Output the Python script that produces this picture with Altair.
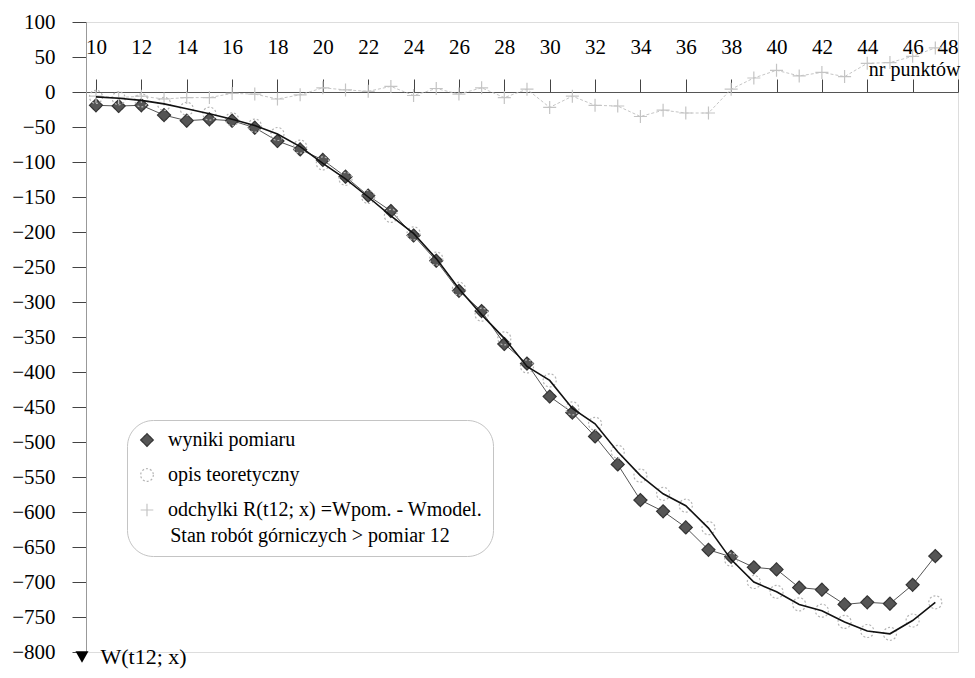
import altair as alt
import pandas as pd

# ---- data ----
points = list(range(10, 48))

measured = [-19, -20, -19, -33, -41, -39, -41, -51, -70, -82,
            -97, -121, -148, -170, -205, -241, -284, -313, -360, -388,
            -435, -458, -492, -532, -583, -599, -622, -654, -664, -679,
            -682, -708, -711, -732, -729, -731, -704, -663]

theoretical = [-7, -9, -12, -17, -24, -31, -39, -48, -60, -78,
               -102, -124, -150, -177, -202, -238, -281, -318, -352, -392,
               -412, -452, -474, -514, -548, -574, -591, -623, -668, -700,
               -714, -732, -741, -757, -770, -774, -755, -729]

deviation = [-6, -8, -6, -10, -8, -8, -2, -3, -10, -4,
             6, 3, 1, 8, -5, 5, -3, 6, -8, 4,
             -22, -6, -19, -20, -35, -26, -30, -30, 4, 20,
             31, 23, 28, 22, 41, 42, 51, 63]

series_labels = ["wyniki pomiaru", "opis teoretyczny",
                 "odchylki R(t12; x) =Wpom. - Wmodel."]
legend_title = "Stan robót górniczych > pomiar 12"

x_ticks = list(range(10, 49, 2))
y_ticks = list(range(-800, 101, 50))

rows = []
for s, vals in zip(series_labels, [measured, theoretical, deviation]):
    for p, v in zip(points, vals):
        rows.append({"nr": p, "W": v, "series": s})
df = pd.DataFrame(rows)

# ---- layout ----
W, H = 872, 630
FONT = "Liberation Serif"
y_dom = [-800, 100]
zero_offset = H * 100 / 900.0

x_scale = alt.Scale(domain=[9.56, 48], nice=False, zero=False)
y_scale = alt.Scale(domain=y_dom, nice=False, zero=False)

x_axis = alt.Axis(orient="top", offset=-zero_offset, values=x_ticks,
                  tickSize=13, tickColor="#444", domainColor="#555",
                  labelFont=FONT, labelFontSize=21, labelColor="black",
                  labelPadding=22, grid=False,
                  title="nr punktów", titleFont=FONT, titleFontSize=20,
                  titleFontWeight="normal", titleColor="black",
                  titleX=W + 2, titleY=-17, titleAlign="right",
                  titleAnchor="end", titleBaseline="alphabetic")

y_axis = alt.Axis(orient="left", values=y_ticks, tickSize=14,
                  tickColor="#444", domainColor="#999",
                  labelFont=FONT, labelFontSize=21, labelColor="black",
                  labelPadding=17, grid=False,
                  title="W(t12; x)", titleFont=FONT, titleFontSize=22,
                  titleFontWeight="normal", titleColor="black",
                  titleAngle=0, titleX=14, titleY=H + 4,
                  titleAlign="left", titleBaseline="middle")

X = alt.X("nr:Q", scale=x_scale, axis=x_axis)
Y = alt.Y("W:Q", scale=y_scale, axis=y_axis)

leg = alt.Legend(orient="none", legendX=41, legendY=398,
                 title=legend_title, titleOrient="bottom",
                 titleAnchor="middle", titleFont=FONT, titleFontSize=20,
                 titleFontWeight="normal", titleColor="black",
                 titlePadding=6, titleLimit=400,
                 labelFont=FONT, labelFontSize=20, labelColor="black",
                 labelOffset=11, labelLimit=400,
                 symbolSize=160, symbolStrokeWidth=1.2,
                 rowPadding=15, padding=10, cornerRadius=26,
                 strokeColor="#c4c4c4", fillColor="white")

base = alt.Chart(df)

dev_line = base.transform_filter(
    alt.datum.series == series_labels[2]
).mark_line(color="#c6c6c6", strokeWidth=1, strokeDash=[3, 2]).encode(
    x=X, y=Y)

meas_line = base.transform_filter(
    alt.datum.series == series_labels[0]
).mark_line(color="#555555", strokeWidth=1).encode(x=X, y=Y)

theo_line = base.transform_filter(
    alt.datum.series == series_labels[1]
).mark_line(color="#111111", strokeWidth=1.6).encode(x=X, y=Y)

pts = base.mark_point(opacity=1, strokeWidth=1.2, size=170).encode(
    x=X, y=Y,
    shape=alt.Shape("series:N", sort=series_labels, legend=leg,
                    scale=alt.Scale(domain=series_labels,
                                    range=["diamond", "circle",
                                           "M-1,0L1,0M0,-1L0,1"])),
    stroke=alt.Stroke("series:N", sort=series_labels, legend=leg,
                      scale=alt.Scale(domain=series_labels,
                                      range=["#333333", "#b4b4b4", "#c4c4c4"])),
    fill=alt.Fill("series:N", sort=series_labels, legend=leg,
                  scale=alt.Scale(domain=series_labels,
                                  range=["#555555", "transparent", "transparent"])),
    strokeDash=alt.StrokeDash("series:N", sort=series_labels, legend=leg,
                              scale=alt.Scale(domain=series_labels,
                                              range=[[1, 0], [2, 2], [1, 0]])),
)

arrow = alt.Chart(pd.DataFrame({"a": [0]})).mark_point(
    shape="triangle-down", filled=True, color="black", opacity=1, size=170
).encode(x=alt.value(-4), y=alt.value(H + 5))

chart = alt.layer(dev_line, meas_line, pts, theo_line, arrow).properties(
    width=W, height=H,
    autosize=alt.AutoSizeParams(type="none"),
    padding={"left": 78, "top": 14, "right": 9, "bottom": 18},
).configure_view(stroke=None).configure(background="white")

chart.save("out.html", embed_options={"renderer": "svg", "actions": False})
